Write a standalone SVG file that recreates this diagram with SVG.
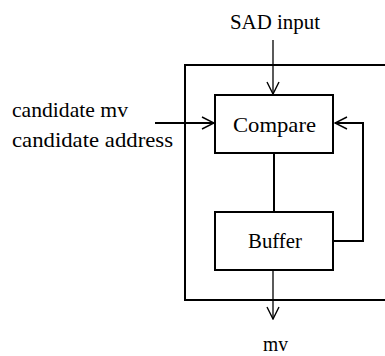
<svg xmlns="http://www.w3.org/2000/svg" width="385" height="356" viewBox="0 0 385 356">
  <defs>
    <style>
      text { font-family: "Liberation Serif", "Times New Roman", serif; font-size: 22px; fill: #000; }
      .box { fill: #fff; stroke: #000; stroke-width: 2; }
      .wire { fill: none; stroke: #000; stroke-width: 2; }
      .thin { fill: none; stroke: #000; stroke-width: 1.3; }
    </style>
    <marker id="open" viewBox="0 0 14 14" refX="13" refY="7" markerWidth="14" markerHeight="14" markerUnits="userSpaceOnUse" orient="auto">
      <path d="M1,1 L13,7 L1,13" fill="none" stroke="#000" stroke-width="1.4"/>
    </marker>
  </defs>

  <!-- enclosing unit frame (runs off the right edge) -->
  <path id="frame" class="wire" d="M392,65 H185 V300 H392"/>

  <g id="connectors">
    <line class="thin" x1="273" y1="40" x2="273" y2="94" marker-end="url(#open)"/>
    <line class="wire" x1="155" y1="123" x2="214" y2="123" marker-end="url(#open)"/>
    <line class="wire" x1="274" y1="153" x2="274" y2="212"/>
    <path class="wire" d="M333,241 H363 V123 H335" marker-end="url(#open)"/>
    <line class="thin" x1="273" y1="270" x2="273" y2="319" marker-end="url(#open)"/>
  </g>

  <g id="compare">
    <rect class="box" x="215" y="95" width="118" height="58"/>
    <text x="233" y="132" textLength="83" lengthAdjust="spacingAndGlyphs">Compare</text>
  </g>

  <g id="buffer">
    <rect class="box" x="215" y="212" width="118" height="58"/>
    <text x="248" y="248" textLength="54" lengthAdjust="spacingAndGlyphs">Buffer</text>
  </g>

  <g id="sad-input">
    <text x="230" y="29" textLength="90" lengthAdjust="spacingAndGlyphs">SAD input</text>
  </g>

  <g id="candidate">
    <text x="12" y="117" textLength="116" lengthAdjust="spacingAndGlyphs">candidate mv</text>
    <text x="12" y="147" textLength="161" lengthAdjust="spacingAndGlyphs">candidate address</text>
  </g>

  <g id="mv-out">
    <text x="263" y="351" textLength="25" lengthAdjust="spacingAndGlyphs">mv</text>
  </g>
</svg>
